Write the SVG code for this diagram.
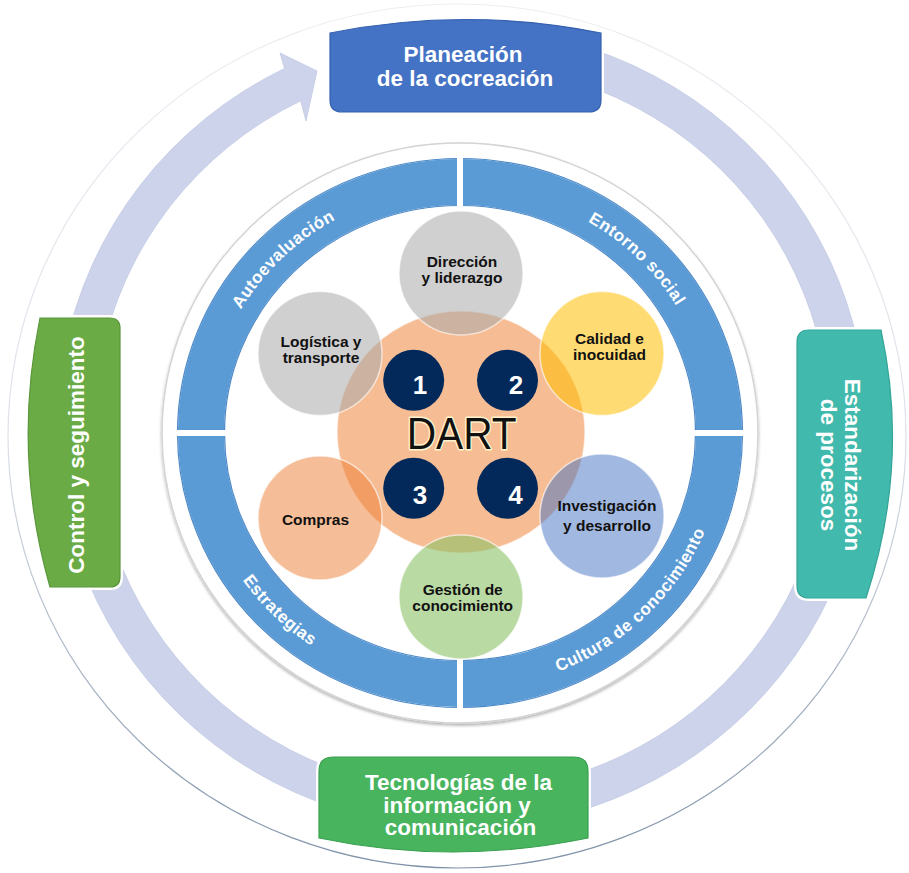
<svg xmlns="http://www.w3.org/2000/svg" width="909" height="873" viewBox="0 0 909 873">
<defs>
<style>
text{font-family:"Liberation Sans",Arial,sans-serif}
.box{font-size:22.5px;font-weight:bold;fill:#fff;text-anchor:middle}
.ring{font-size:17px;font-weight:bold;fill:#fff;letter-spacing:0.4px}
.lbl{font-size:15.5px;font-weight:bold;fill:#111;text-anchor:middle}
.num{font-size:26px;font-weight:bold;fill:#fff;text-anchor:middle}
.halo{fill:none;stroke:#fff;stroke-width:6;stroke-linejoin:round}
.sat{stroke:#fff;stroke-opacity:0.6;stroke-width:1.5}
.nc{fill:#03295A}
.gap{fill:#fff}
</style>
<linearGradient id="og" x1="0" y1="0" x2="0" y2="1">
<stop offset="0" stop-color="#ECEEF2"/>
<stop offset="0.5" stop-color="#DDE1E8"/>
<stop offset="1" stop-color="#7F91A8"/>
</linearGradient>
<filter id="sh" x="-10%" y="-10%" width="120%" height="120%">
<feDropShadow dx="0" dy="2" stdDeviation="1.5" flood-color="#000" flood-opacity="0.3"/>
</filter>
<path id="pAuto" d="M206.5,433 A253,245 0 0,1 460,188"/>
<path id="pEnt" d="M460,188 A253,245 0 0,1 713,433"/>
<path id="pEst" d="M195,433 A265,257 0 0,0 460,690"/>
<path id="pCul" d="M460,690 A265,257 0 0,0 725,433"/>
<path id="shTop" d="M330,33 Q465,6 601,33 L601,100 Q601,112 589,112 L342,112 Q330,112 330,100 Z"/>
<path id="shLeft" d="M40,318 L110,318 Q120,318 120,328 L120,577 Q120,587 110,587 L50,587 Q12,455 40,318 Z"/>
<path id="shRight" d="M809,330 L881,330 Q910,464 866,598 L809,598 Q797,598 797,586 L797,342 Q797,330 809,330 Z"/>
<path id="shBottom" d="M333,757 L574,757 Q588,757 588,771 L588,838 Q453,866 319,838 L319,771 Q319,757 333,757 Z"/>
</defs>
<rect width="909" height="873" fill="#fff"/>
<ellipse cx="457" cy="436" rx="449" ry="432" fill="none" stroke="url(#og)" stroke-width="1.2"/>

<g id="connectors">
<path d="M566.8,41.6 A405,400 0 1,1 284.5,68.5 L280,53 L317,71 L306,121 L300.7,100.8 A368,364 0 1,0 557.2,76.4 Z" fill="#CDD3EA" stroke="#C2C9E3" stroke-width="0.8"/>
</g>

<g id="ring">
<ellipse cx="460" cy="433" rx="298" ry="290" fill="#fff" stroke="#D4D4D4" stroke-width="1.5" filter="url(#sh)"/>
<ellipse cx="460" cy="433" rx="259" ry="251" fill="none" stroke="#5B9BD5" stroke-width="46"/>
<ellipse cx="460" cy="433" rx="282.5" ry="274.5" fill="none" stroke="#4C89C8" stroke-width="1.2"/>
<ellipse cx="460" cy="433" rx="235.5" ry="227.5" fill="none" stroke="#4C89C8" stroke-width="1.2"/>
<rect class="gap" x="457" y="152" width="6" height="56"/>
<rect class="gap" x="457" y="658" width="6" height="56"/>
<rect class="gap" x="170" y="430" width="62" height="6"/>
<rect class="gap" x="688" y="430" width="62" height="6"/>
<text class="ring" text-anchor="middle"><textPath href="#pAuto" startOffset="50%">Autoevaluación</textPath></text>
<text class="ring" text-anchor="middle"><textPath href="#pEnt" startOffset="50%">Entorno social</textPath></text>
<text class="ring" text-anchor="middle"><textPath href="#pEst" startOffset="50%">Estrategias</textPath></text>
<text class="ring" text-anchor="middle"><textPath href="#pCul" startOffset="50%">Cultura de conocimiento</textPath></text>
</g>

<g id="node-top">
<use href="#shTop" class="halo"/>
<use href="#shTop" fill="#4472C4" stroke="#3560AE" stroke-width="1.2"/>
<text class="box" x="463" y="62">Planeación</text>
<text class="box" x="465" y="85.5">de la cocreación</text>
</g>
<g id="node-left">
<use href="#shLeft" class="halo"/>
<use href="#shLeft" fill="#6AAB46" stroke="#5A973A" stroke-width="1.2"/>
<text class="box" transform="translate(83.5,455) rotate(-90)">Control y seguimiento</text>
</g>
<g id="node-right">
<use href="#shRight" class="halo"/>
<use href="#shRight" fill="#41B9AC" stroke="#34A497" stroke-width="1.2"/>
<text class="box" transform="translate(844.5,465) rotate(90)">Estandarización</text>
<text class="box" transform="translate(820.5,465) rotate(90)">de procesos</text>
</g>
<g id="node-bottom">
<use href="#shBottom" class="halo"/>
<use href="#shBottom" fill="#48B45E" stroke="#3AA050" stroke-width="1.2"/>
<text class="box" x="458.5" y="789.5">Tecnologías de la</text>
<text class="box" x="457" y="812.5">información y</text>
<text class="box" x="460.5" y="835">comunicación</text>
</g>

<g id="node-dart">
<ellipse cx="461" cy="432" rx="124" ry="121" fill="#F4B183" fill-opacity="0.85" stroke="#fff" stroke-opacity="0.5" stroke-width="1.5"/>
</g>
<g id="node-direccion">
<circle class="sat" cx="461" cy="273" r="62" fill="#A9A9A9" fill-opacity="0.55"/>
<text class="lbl" x="462" y="266.5">Dirección</text>
<text class="lbl" x="462" y="282.5">y liderazgo</text>
</g>
<g id="node-logistica">
<circle class="sat" cx="320" cy="353.5" r="62" fill="#A9A9A9" fill-opacity="0.55"/>
<text class="lbl" x="321" y="347">Logística y</text>
<text class="lbl" x="321" y="363">transporte</text>
</g>
<g id="node-calidad">
<circle class="sat" cx="602" cy="353.5" r="62" fill="#FFC000" fill-opacity="0.55"/>
<text class="lbl" x="609.5" y="343.5">Calidad e</text>
<text class="lbl" x="609.5" y="360">inocuidad</text>
</g>
<g id="node-compras">
<circle class="sat" cx="320" cy="518" r="62" fill="#ED7D31" fill-opacity="0.5"/>
<text class="lbl" x="315.5" y="525">Compras</text>
</g>
<g id="node-investigacion">
<circle class="sat" cx="602" cy="516" r="62" fill="#4472C4" fill-opacity="0.5"/>
<text class="lbl" x="607" y="510.5">Investigación</text>
<text class="lbl" x="607" y="531">y desarrollo</text>
</g>
<g id="node-gestion">
<circle class="sat" cx="461" cy="597" r="62" fill="#8CC168" fill-opacity="0.6"/>
<text class="lbl" x="462.7" y="594.5">Gestión de</text>
<text class="lbl" x="462.7" y="611">conocimiento</text>
</g>

<g id="node-1"><circle class="nc" cx="413.7" cy="380.3" r="30.5"/><text class="num" x="420" y="393.5">1</text></g>
<g id="node-2"><circle class="nc" cx="507.5" cy="380.3" r="30.5"/><text class="num" x="516" y="393.5">2</text></g>
<g id="node-3"><circle class="nc" cx="413.7" cy="488.3" r="30.5"/><text class="num" x="420" y="504">3</text></g>
<g id="node-4"><circle class="nc" cx="507.5" cy="488.3" r="30.5"/><text class="num" x="515.5" y="504">4</text></g>

<g id="node-dart-label">
<text x="461.7" y="449.3" font-size="44.7" text-anchor="middle" textLength="110" lengthAdjust="spacingAndGlyphs" fill="#111" stroke="#FFF3CC" stroke-width="3" paint-order="stroke" stroke-linejoin="round">DART</text>
</g>
</svg>
